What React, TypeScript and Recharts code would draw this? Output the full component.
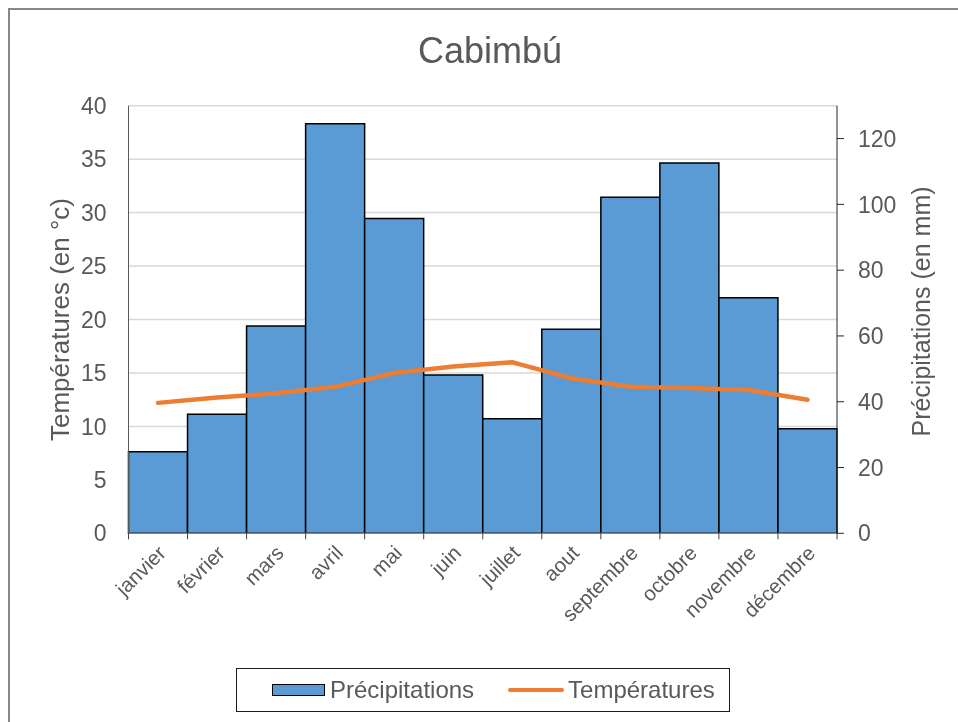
import { ComposedChart, Bar, Line, XAxis, YAxis, CartesianGrid } from 'recharts';

const months = ['janvier', 'février', 'mars', 'avril', 'mai', 'juin', 'juillet', 'aout', 'septembre', 'octobre', 'novembre', 'décembre'];
const precipitations = [24.8, 36.2, 63.0, 124.5, 95.7, 48.1, 34.8, 62.0, 102.2, 112.6, 71.6, 31.8];
const temperatures = [12.2, 12.7, 13.1, 13.7, 15.0, 15.6, 16.0, 14.5, 13.7, 13.6, 13.4, 12.5];
const tempTicks = [0, 5, 10, 15, 20, 25, 30, 35, 40];
const precTicks = [0, 20, 40, 60, 80, 100, 120];

const FONT = '"Liberation Sans", Arial, sans-serif';
const TEXT = '#595959';
const W = 950;
const H = 714;
const LEFT_W = 120.5;
const RIGHT_W = 121;
const BAND = (W - LEFT_W - RIGHT_W) / months.length;

const data = months.map((m, i) => ({
  month: m,
  prec: precipitations[i],
  temp: temperatures[i],
}));

function MonthTick(props: any) {
  const { x, y, payload } = props;
  const last = payload.index === months.length - 1;
  const tx = x + 9;
  const ty = y + 21;
  return (
    <g>
      <line x1={x - BAND / 2} y1={y} x2={x - BAND / 2} y2={y + 6} stroke="#404040" strokeWidth={1} />
      {last && <line x1={x + BAND / 2} y1={y} x2={x + BAND / 2} y2={y + 6} stroke="#404040" strokeWidth={1} />}
      <text
        x={tx}
        y={ty}
        textAnchor="end"
        transform={`rotate(-45, ${tx}, ${ty})`}
        fill={TEXT}
        fontSize={20.5}
        fontFamily={FONT}
      >
        {payload.value}
      </text>
    </g>
  );
}

export default function App() {
  return (
    <div style={{ position: 'fixed', left: 8, top: 8, width: W, height: H, fontFamily: FONT }}>
      <div
        style={{
          position: 'absolute', left: 0, top: 0, width: W, height: H,
          borderLeft: '2px solid #878787', borderTop: '2px solid #878787', boxSizing: 'border-box',
        }}
      />
      <div
        style={{
          position: 'absolute', left: 0, width: 964, top: 23, textAlign: 'center',
          fontSize: 36, color: TEXT, lineHeight: '40px',
        }}
      >
        Cabimbú
      </div>
      <div style={{ position: 'absolute', left: 0, top: 0 }}>
        <ComposedChart
          width={W}
          height={H}
          data={data}
          margin={{ top: 97.7, right: 0, left: 0, bottom: 0 }}
          barCategoryGap={0}
          barGap={0}
        >
          <CartesianGrid yAxisId="left" vertical={false} stroke="#d9d9d9" strokeWidth={1.5} />
          <XAxis
            dataKey="month"
            height={188.7}
            interval={0}
            tickSize={0}
            tickMargin={0}
            tickLine={false}
            stroke="#a6a6a6"
            tick={<MonthTick />}
          />
          <YAxis
            yAxisId="left"
            orientation="left"
            width={LEFT_W}
            domain={[0, 40]}
            ticks={tempTicks}
            tickLine={false}
            tickSize={6}
            tickMargin={16}
            stroke="#595959"
            tick={{ fill: TEXT, fontSize: 23, fontFamily: FONT }}
            label={{
              value: 'Températures (en °c)',
              angle: -90,
              position: 'center',
              dx: -8,
              fill: TEXT,
              fontSize: 26,
              fontFamily: FONT,
            }}
          />
          <YAxis
            yAxisId="right"
            orientation="right"
            width={RIGHT_W}
            domain={[0, 130]}
            ticks={precTicks}
            tickSize={7}
            tickMargin={14}
            stroke="#262626"
            tick={{ fill: TEXT, fontSize: 23, fontFamily: FONT }}
            label={{
              value: 'Précipitations  (en mm)',
              angle: -90,
              position: 'center',
              dx: 24,
              dy: -8,
              fill: TEXT,
              fontSize: 25,
              fontFamily: FONT,
              style: { whiteSpace: 'pre' },
            }}
          />
          <Bar
            yAxisId="right"
            dataKey="prec"
            name="Précipitations"
            fill="#5b9bd5"
            stroke="#000"
            strokeWidth={1.5}
            isAnimationActive={false}
          />
          <Line
            yAxisId="left"
            dataKey="temp"
            name="Températures"
            type="linear"
            stroke="#ed7d31"
            strokeWidth={4.5}
            strokeLinecap="round"
            strokeLinejoin="round"
            dot={false}
            activeDot={false}
            isAnimationActive={false}
          />
        </ComposedChart>
      </div>
      <div
        style={{
          position: 'absolute', left: 228, top: 660, width: 494, height: 44,
          border: '1.5px solid #1a1a1a', boxSizing: 'border-box',
          display: 'flex', alignItems: 'center', fontSize: 24, color: TEXT, whiteSpace: 'nowrap',
        }}
      >
        <span style={{ display: 'inline-block', marginLeft: 35, width: 53, height: 12, background: '#5b9bd5', border: '1.5px solid #000', boxSizing: 'border-box' }} />
        <span style={{ marginLeft: 5 }}>Précipitations</span>
        <span style={{ display: 'inline-block', marginLeft: 34, width: 56, height: 4.5, background: '#ed7d31', borderRadius: 3 }} />
        <span style={{ marginLeft: 4 }}>Températures</span>
      </div>
    </div>
  );
}
